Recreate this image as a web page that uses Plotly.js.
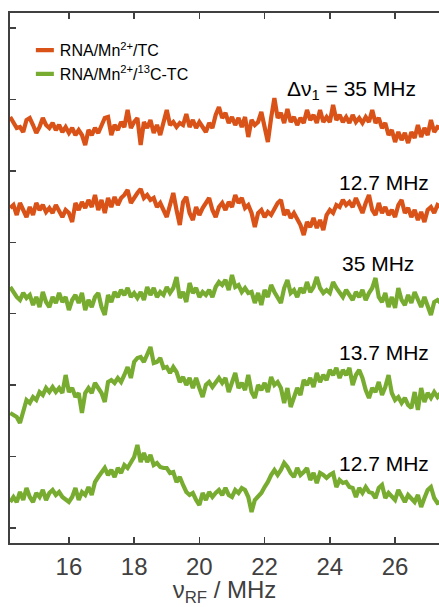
<!DOCTYPE html>
<html>
<head>
<meta charset="utf-8">
<script src="https://cdn.plot.ly/plotly-3.0.1.min.js"></script>
<style>
  html, body { margin: 0; padding: 0; background: #fff; overflow: hidden; }
  #chart { width: 439px; height: 607px; }
</style>
</head>
<body>
<div id="chart"></div>
<script>
// RF sweep grid (MHz): first point and spacing of the recorded spectra
const RF_START = 14.2;
const RF_STEP = 0.1;

// ENDOR-type spectra, vertically offset intensities (arb. units)
// RNA/Mn2+/TC, Δν1 = 35 MHz
const tc35 = [411,406,400,401,396,408,410,403,395,401,410,403,400,405,398,403,396,401,395,400,
  393,398,393,383,398,393,400,395,403,410,411,393,403,398,406,401,418,400,406,410,
  383,406,400,408,395,403,393,406,418,403,406,401,405,403,414,401,408,400,406,401,
  396,405,400,413,421,410,415,405,411,403,410,401,411,391,408,403,406,416,400,386,
  410,430,410,415,405,419,406,411,403,410,405,418,408,413,405,418,406,411,406,423,
  408,413,406,411,405,413,406,410,405,411,406,418,405,410,400,405,393,398,386,396,
  388,395,385,396,390,403,391,400,393,408,396,401,400];

// RNA/Mn2+/TC, 12.7 MHz
const tc127 = [320,323,313,325,318,311,321,313,325,318,323,316,320,315,323,316,311,318,315,306,
  325,318,326,320,328,321,333,318,328,315,330,321,331,323,330,333,338,325,331,335,
  339,330,333,328,330,321,325,318,311,323,335,318,303,326,331,315,308,321,313,320,
  325,330,318,311,321,325,318,326,321,333,325,330,320,323,315,301,315,318,311,316,
  313,320,325,328,313,318,310,315,308,303,293,306,301,310,300,308,298,313,318,315,
  323,321,328,323,326,321,330,323,315,325,333,318,313,325,315,321,313,318,311,323,
  328,315,320,311,318,308,316,306,318,321,315,323,321];

// RNA/Mn2+/13C-TC, 35 MHz
const c13tc35 = [241,235,231,228,235,230,233,223,231,221,236,226,221,231,225,235,226,231,218,228,
  233,225,235,218,228,221,231,235,221,213,233,226,236,231,238,233,240,231,235,230,
  236,228,241,233,240,231,236,233,241,235,240,251,230,236,226,245,235,240,231,236,
  233,238,231,241,246,243,248,238,253,241,243,236,240,235,236,225,235,223,238,231,
  243,236,231,225,240,248,235,238,231,240,235,246,236,241,251,240,235,238,235,246,
  240,236,231,238,233,228,236,231,238,228,235,240,250,231,226,235,221,231,220,240,
  228,223,233,225,236,228,221,231,223,213,226,228,225];

// RNA/Mn2+/13C-TC, 13.7 MHz
const c13tc137 = [115,113,111,105,118,128,125,131,128,136,133,140,136,141,136,140,135,153,136,140,
  131,135,115,135,140,135,145,140,135,126,146,148,145,150,146,153,161,150,166,170,
  171,166,173,181,165,166,170,160,161,155,161,156,146,151,143,150,140,150,140,131,
  143,146,141,146,150,145,150,136,146,155,140,145,138,153,136,130,143,138,145,136,
  151,143,146,140,125,140,121,130,140,133,148,143,150,141,155,146,153,148,158,153,
  160,150,158,153,160,143,153,158,150,138,130,140,136,146,133,141,153,135,128,131,
  125,130,123,120,136,118,140,126,135,130,136,131,135];

// RNA/Mn2+/13C-TC, 12.7 MHz
const c13tc127 = [26,31,26,36,28,40,31,26,35,31,38,28,35,38,33,36,31,28,26,31,
  40,28,36,33,41,33,46,51,55,60,53,58,51,60,55,63,60,66,71,83,
  66,75,66,73,63,65,61,60,60,55,56,46,51,43,36,33,35,28,23,35,
  28,36,31,35,38,33,40,33,31,38,35,40,38,31,16,28,31,35,41,46,
  53,58,53,58,65,61,55,51,60,53,56,60,48,55,45,55,53,50,53,55,
  41,48,45,46,41,40,31,40,35,41,36,35,30,40,43,30,35,31,28,38,
  31,26,33,30,26,33,21,30,38,41,30,25,26];

// Legend labels and per-spectrum labels
const sampleNames = ['RNA/Mn<sup>2+</sup>/TC', 'RNA/Mn<sup>2+</sup>/<sup>13</sup>C-TC'];
const spectrumLabels = ['Δν<sub>1</sub> = 35 MHz', '12.7 MHz', '35 MHz', '13.7 MHz', '12.7 MHz'];
const xTickVals = [16, 18, 20, 22, 24, 26];

const ORANGE = '#D95319';
const GREEN = '#77AC30';
const AXIS = '#404040';
const FONT = 'Liberation Sans, Arial, Helvetica, sans-serif';

const spectra = [
  { y: tc35, color: ORANGE, name: sampleNames[0], legend: true },
  { y: tc127, color: ORANGE, name: sampleNames[0], legend: false },
  { y: c13tc35, color: GREEN, name: sampleNames[1], legend: true },
  { y: c13tc137, color: GREEN, name: sampleNames[1], legend: false },
  { y: c13tc127, color: GREEN, name: sampleNames[1], legend: false }
];

function rfGrid(n) {
  const f = [];
  for (let i = 0; i < n; i++) f.push(+(RF_START + i * RF_STEP).toFixed(2));
  return f;
}

const traces = spectra.map(s => ({
  type: 'scatter',
  mode: 'lines',
  x: rfGrid(s.y.length),
  y: s.y,
  name: s.name,
  legendgroup: s.name,
  showlegend: s.legend,
  line: { color: s.color, width: 4.2 },
  hoverinfo: 'skip'
}));

// Label placement: text sits to the right, just above each spectrum
const labelX = [26.7, 27.11, 26.65, 27.11, 27.11];
const labelY = [438, 346, 265, 176, 65];
const annotations = spectrumLabels.map((t, i) => ({
  text: t,
  x: labelX[i], y: labelY[i],
  xref: 'x', yref: 'y',
  xanchor: 'right', yanchor: 'middle',
  showarrow: false,
  font: { family: FONT, size: 21, color: '#000' }
}));

const layout = {
  width: 439,
  height: 607,
  margin: { l: 10, r: 0, t: 13, b: 64 },
  paper_bgcolor: '#fff',
  plot_bgcolor: '#fff',
  font: { family: FONT, color: AXIS },
  showlegend: true,
  legend: {
    x: 0.023, y: 0.962, xanchor: 'left', yanchor: 'top',
    bgcolor: 'rgba(0,0,0,0)',
    font: { family: FONT, size: 16, color: '#000' },
    traceorder: 'grouped',
    tracegroupgap: 0
  },
  xaxis: {
    range: [14.194, 27.347],
    tickvals: xTickVals,
    ticks: 'inside',
    ticklen: 6,
    tickwidth: 1.5,
    tickcolor: AXIS,
    showline: true,
    linecolor: AXIS,
    linewidth: 2,
    mirror: 'ticks',
    showgrid: false,
    zeroline: false,
    ticklabelstandoff: 1,
    tickfont: { family: FONT, size: 24, color: AXIS },
    title: {
      text: 'ν<sub>RF</sub> / MHz',
      font: { family: FONT, size: 24, color: AXIS }
    }
  },
  yaxis: {
    range: [-15, 515],
    tick0: 0,
    dtick: 71.43,
    ticks: 'inside',
    ticklen: 6,
    tickwidth: 1.5,
    tickcolor: AXIS,
    showticklabels: false,
    showline: true,
    linecolor: AXIS,
    linewidth: 2,
    mirror: false,
    showgrid: false,
    zeroline: false
  },
  annotations: annotations
};

Plotly.newPlot('chart', traces, layout, { displayModeBar: false, staticPlot: true }).then(gd => {
  // shorter legend line samples
  gd.querySelectorAll('.legend .legendlines path').forEach(p => {
    p.setAttribute('d', 'M16,0h18');
  });
});
</script>
</body>
</html>
